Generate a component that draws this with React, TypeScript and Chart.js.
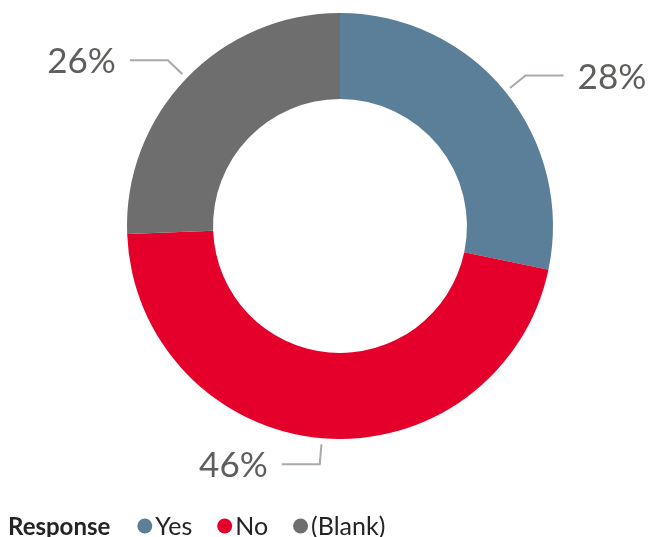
import React, { useEffect, useRef } from "react";
import { Chart, registerables } from "chart.js";

Chart.register(...registerables);

const categories = ["Yes", "No", "(Blank)"];
const values = [28.3, 46.1, 25.6];
const colors = ["#5B7F99", "#E4002B", "#6E6E6E"];
const legendTitle = "Response";

const FONT = "Lato, 'Noto Sans', sans-serif";

const leaderPlugin = {
  id: "leaders",
  afterDatasetsDraw(chart: any) {
    const ctx = chart.ctx;
    const meta = chart.getDatasetMeta(0);
    const data = chart.data.datasets[0].data as number[];
    const total = data.reduce((a, b) => a + b, 0);
    ctx.save();
    meta.data.forEach((arc: any, i: number) => {
      const { x, y, outerRadius, startAngle, endAngle } = arc.getProps(
        ["x", "y", "outerRadius", "startAngle", "endAngle"],
        true
      );
      const mid = (startAngle + endAngle) / 2;
      const c = Math.cos(mid);
      const s = Math.sin(mid);
      const r1 = outerRadius + 6;
      const p1x = x + r1 * c;
      const p1y = y + r1 * s;
      const p2x = p1x + 20 * c;
      const p2y = p1y + 20 * s;
      const dir = c >= 0 ? 1 : -1;
      const p3x = p2x + dir * 38;
      ctx.strokeStyle = "#ADA8A6";
      ctx.lineWidth = 2;
      ctx.beginPath();
      ctx.moveTo(p1x, p1y);
      ctx.lineTo(p2x, p2y);
      ctx.lineTo(p3x, p2y);
      ctx.stroke();
      const pct = Math.round((data[i] / total) * 100) + "%";
      ctx.fillStyle = "#605E5C";
      ctx.font = `35px ${FONT}`;
      ctx.textBaseline = "middle";
      ctx.textAlign = dir > 0 ? "left" : "right";
      ctx.fillText(pct, p3x + dir * 14, p2y + 2);
    });
    ctx.restore();
  },
};

const legendPlugin = {
  id: "customLegend",
  afterDraw(chart: any) {
    const ctx = chart.ctx;
    ctx.save();
    const baseY = 526;
    ctx.textBaseline = "middle";
    ctx.textAlign = "left";
    ctx.fillStyle = "#252423";
    ctx.font = `bold 24px ${FONT}`;
    let x = 8;
    ctx.fillText(legendTitle, x, baseY + 1);
    x += ctx.measureText(legendTitle).width;
    ctx.font = `25px ${FONT}`;
    categories.forEach((cat, i) => {
      x += i === 0 ? 27 : 25;
      ctx.fillStyle = colors[i];
      ctx.beginPath();
      ctx.arc(x + 7.5, baseY, 7.5, 0, Math.PI * 2);
      ctx.fill();
      x += 15 + 3;
      ctx.fillStyle = "#252423";
      ctx.fillText(cat, x, baseY + 1);
      x += ctx.measureText(cat).width;
    });
    ctx.restore();
  },
};

export default function App() {
  const ref = useRef<HTMLCanvasElement>(null);
  useEffect(() => {
    if (!ref.current) return;
    const chart = new Chart(ref.current, {
      type: "doughnut",
      data: {
        labels: categories,
        datasets: [
          {
            data: values,
            backgroundColor: colors,
            borderWidth: 0,
          },
        ],
      },
      options: {
        animation: false,
        responsive: false,
        cutout: "59.6%",
        layout: { padding: { left: 127, right: 97, top: 13, bottom: 98 } },
        plugins: {
          legend: { display: false },
          tooltip: { enabled: false },
        },
      },
      plugins: [leaderPlugin, legendPlugin],
    });
    return () => chart.destroy();
  }, []);
  return (
    <div style={{ position: "absolute", left: 0, top: 0, width: 650, height: 537, background: "#fff" }}>
      <canvas ref={ref} width={650} height={537} style={{ display: "block" }} />
    </div>
  );
}
